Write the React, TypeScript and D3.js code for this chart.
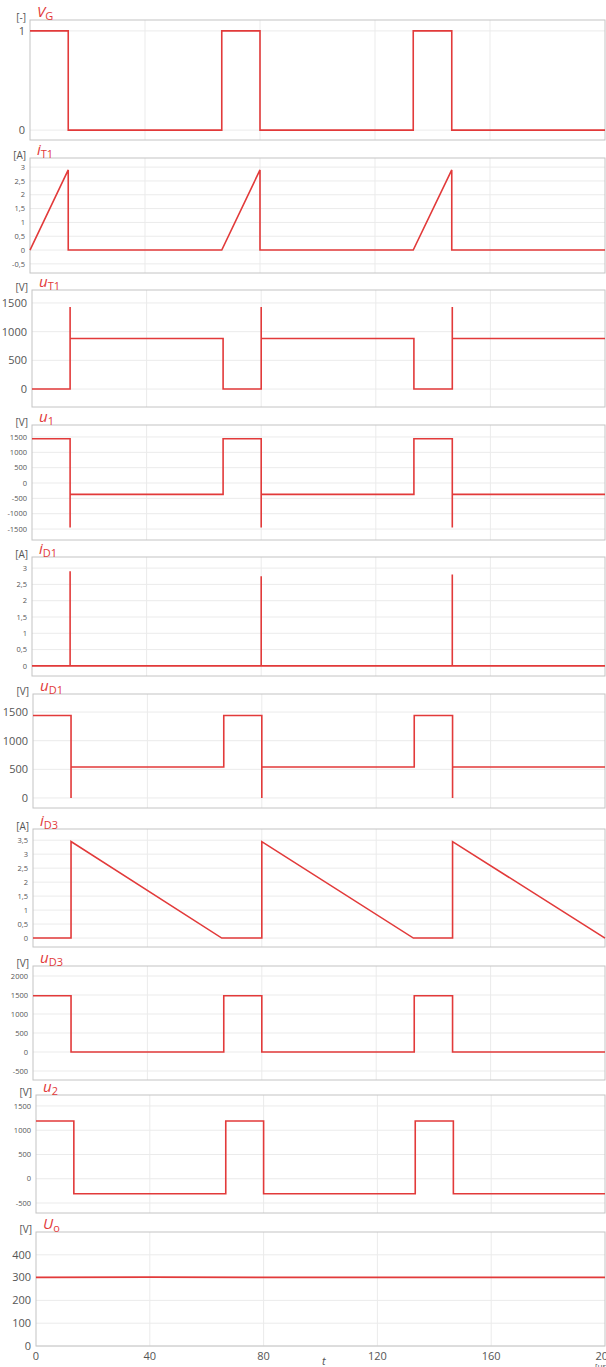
import React from "react";
import * as d3 from "d3";

// switching waveforms, time in µs
const vgTime = [0, 13.3, 13.3, 66.7, 66.7, 80, 80, 133.3, 133.3, 146.7, 146.7, 200];
const vgVal = [1, 1, 0, 0, 1, 1, 0, 0, 1, 1, 0, 0];

const iT1Time = [0, 13.3, 13.3, 66.7, 80, 80, 133.3, 146.7, 146.7, 200];
const iT1Val = [0, 2.9, 0, 0, 2.9, 0, 0, 2.9, 0, 0];

const spikeTime = [0, 13.3, 13.3, 13.3, 66.7, 66.7, 80, 80, 80, 133.3, 133.3, 146.7, 146.7, 146.7, 200];
const uT1Val = [0, 0, 1430, 880, 880, 0, 0, 1430, 880, 880, 0, 0, 1430, 880, 880];
const u1Val = [1440, 1440, -1450, -370, -370, 1440, 1440, -1450, -370, -370, 1440, 1440, -1450, -370, -370];
const uD1Val = [1440, 1440, 0, 540, 540, 1440, 1440, 0, 540, 540, 1440, 1440, 0, 540, 540];

const iD1Time = [0, 13.3, 13.3, 13.3, 80, 80, 80, 146.7, 146.7, 146.7, 200];
const iD1Val = [0, 0, 2.9, 0, 0, 2.75, 0, 0, 2.8, 0, 0];

const iD3Time = [0, 13.3, 13.3, 66, 80, 80, 133, 146.7, 146.7, 200];
const iD3Val = [0, 0, 3.45, 0, 0, 3.45, 0, 0, 3.45, 0];

const uD3Val = [1480, 1480, 0, 0, 1480, 1480, 0, 0, 1480, 1480, 0, 0];
const u2Val = [1190, 1190, -310, -310, 1190, 1190, -310, -310, 1190, 1190, -310, -310];

const uoTime = [0, 40, 80, 120, 160, 200];
const uoVal = [301, 302, 301, 301, 301, 301];

const xTicks = [0, 40, 80, 120, 160, 200];

const panels = [
  { sym: "V", sub: "G", unit: "[-]", top: 20, bottom: 140, left: 30, domain: [-0.1, 1.11], ticks: [0, 1], labels: ["0", "1"], fs: 11, t: vgTime, v: vgVal },
  { sym: "i", sub: "T1", unit: "[A]", top: 158, bottom: 273, left: 30, domain: [-0.83, 3.33], ticks: [-0.5, 0, 0.5, 1, 1.5, 2, 2.5, 3], labels: ["-0,5", "0", "0,5", "1", "1,5", "2", "2,5", "3"], fs: 7.5, t: iT1Time, v: iT1Val },
  { sym: "u", sub: "T1", unit: "[V]", top: 290, bottom: 407, left: 32, domain: [-313, 1726], ticks: [0, 500, 1000, 1500], labels: ["0", "500", "1000", "1500"], fs: 11, t: spikeTime, v: uT1Val },
  { sym: "u", sub: "1", unit: "[V]", top: 425, bottom: 540, left: 32, domain: [-1857, 1890], ticks: [-1500, -1000, -500, 0, 500, 1000, 1500], labels: ["-1500", "-1000", "-500", "0", "500", "1000", "1500"], fs: 7.5, t: spikeTime, v: u1Val },
  { sym: "i", sub: "D1", unit: "[A]", top: 557, bottom: 676, left: 32, domain: [-0.31, 3.34], ticks: [0, 0.5, 1, 1.5, 2, 2.5, 3], labels: ["0", "0,5", "1", "1,5", "2", "2,5", "3"], fs: 7.5, t: iD1Time, v: iD1Val },
  { sym: "u", sub: "D1", unit: "[V]", top: 694, bottom: 808, left: 33, domain: [-175, 1815], ticks: [0, 500, 1000, 1500], labels: ["0", "500", "1000", "1500"], fs: 11, t: spikeTime, v: uD1Val },
  { sym: "i", sub: "D3", unit: "[A]", top: 829, bottom: 947, left: 33, domain: [-0.32, 3.9], ticks: [0, 0.5, 1, 1.5, 2, 2.5, 3, 3.5], labels: ["0", "0,5", "1", "1,5", "2", "2,5", "3", "3,5"], fs: 7.5, t: iD3Time, v: iD3Val },
  { sym: "u", sub: "D3", unit: "[V]", top: 966, bottom: 1080, left: 33, domain: [-737, 2263], ticks: [-500, 0, 500, 1000, 1500, 2000], labels: ["-500", "0", "500", "1000", "1500", "2000"], fs: 7.5, t: vgTime, v: uD3Val },
  { sym: "u", sub: "2", unit: "[V]", top: 1095, bottom: 1213, left: 36, domain: [-706, 1726], ticks: [-500, 0, 500, 1000, 1500], labels: ["-500", "0", "500", "1000", "1500"], fs: 7.5, t: vgTime, v: u2Val },
  { sym: "U", sub: "o", unit: "[V]", top: 1232, bottom: 1346, left: 36, domain: [0, 500], ticks: [0, 100, 200, 300, 400], labels: ["0", "100", "200", "300", "400"], fs: 11, t: uoTime, v: uoVal },
];

const RIGHT = 605;
const RED = "#e23a3a";
const font = "'Open Sans', 'Liberation Sans', sans-serif";

const Panel = ({ p, last }: { p: any; last: boolean }) => {
  const x = d3.scaleLinear().domain([0, 200]).range([p.left, RIGHT]);
  const y = d3.scaleLinear().domain(p.domain).range([p.bottom, p.top]);
  const pts: [number, number][] = p.t.map((t: number, i: number) => [t, p.v[i]]);
  const line = d3.line<[number, number]>().x((d) => x(d[0])).y((d) => y(d[1]));
  return (
    <g>
      {p.ticks.map((t: number) => (
        <line key={"h" + t} x1={p.left} x2={RIGHT} y1={y(t)} y2={y(t)} stroke="#ebebeb" />
      ))}
      {xTicks.slice(1, -1).map((t) => (
        <line key={"v" + t} x1={x(t)} x2={x(t)} y1={p.top} y2={p.bottom} stroke="#ebebeb" />
      ))}
      <rect x={p.left} y={p.top} width={RIGHT - p.left} height={p.bottom - p.top} fill="none" stroke="#c4c4c4" />
      {p.ticks.map((t: number, i: number) => (
        <text key={"l" + t} x={p.left - 5} y={y(t)} dy="0.35em" textAnchor="end" fontSize={p.fs} fill="#555">
          {p.labels[i]}
        </text>
      ))}
      <text x={p.left - 4} y={p.top + 1} textAnchor="end" fontSize={10} fill="#555">{p.unit}</text>
      <text x={p.left + 7} y={p.top - 3} fill={RED} fontSize={15}>
        <tspan fontStyle="italic">{p.sym}</tspan>
        <tspan fontSize={11} dy={3}>{p.sub}</tspan>
      </text>
      <path d={line(pts) || ""} fill="none" stroke={RED} strokeWidth={1.6} />
      {last &&
        xTicks.map((t) => (
          <text key={"x" + t} x={x(t)} y={p.bottom + 14} textAnchor="middle" fontSize={11} fill="#555">
            {t}
          </text>
        ))}
    </g>
  );
};

const App = () => {
  return (
    <svg width={606} height={1367} style={{ position: "absolute", left: 0, top: 0, fontFamily: font }}>
      <rect width={606} height={1367} fill="#fff" />
      {panels.map((p, i) => (
        <Panel key={i} p={p} last={i === panels.length - 1} />
      ))}
      <text x={322} y={1365} fontSize={11} fontStyle="italic" fill="#555">t</text>
      <text x={595} y={1369} fontSize={8} fill="#555">[µs]</text>
    </svg>
  );
};

export default App;
